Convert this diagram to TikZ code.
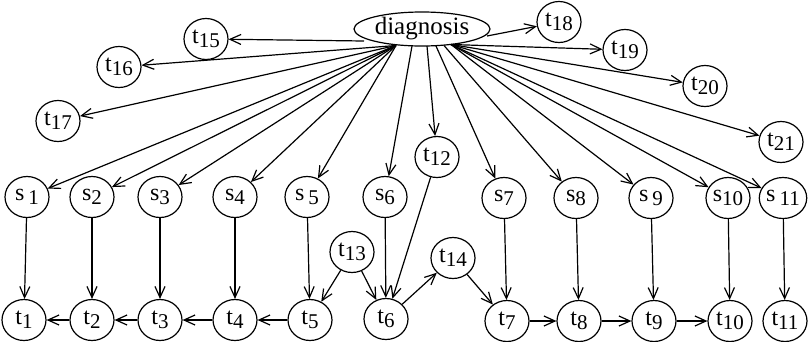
\documentclass[tikz,border=0pt]{standalone}
\usepackage{fontspec}
\setmainfont{Liberation Serif}
\usetikzlibrary{arrows.meta,shapes.geometric}
\newcommand\lsub[1]{\raisebox{-0.4ex}{\fontsize{21}{22}\selectfont #1}}
\tikzset{
  nd/.style={draw, line width=1.2pt, ellipse, minimum width=44pt, minimum height=41pt, inner sep=0pt, font=\fontsize{24}{26}\selectfont},
  ar/.style={line width=1.2pt, -{Straight Barb[length=11pt,width=10pt,line width=1.2pt]}},
}
\begin{document}
\begin{tikzpicture}[x=1pt,y=-1pt]
\useasboundingbox (0,0) rectangle (808,341);
\node[draw, line width=1.2pt, ellipse, minimum width=136pt, minimum height=34pt, inner sep=0pt, font=\fontsize{25}{27}\selectfont] (dg) at (422,29) {diagnosis};
\coordinate (dA) at (364,41);
\coordinate (dL) at (396,45.5);
\coordinate (d6) at (412,46);
\coordinate (d12) at (427,46);
\coordinate (d7) at (436,46);
\coordinate (d8) at (444,45.5);
\coordinate (dR) at (451,44.5);
\coordinate (dB) at (487,36);
\node[nd] (t15) at (206,39) {t\lsub{15}};
\node[nd] (t16) at (119,67) {t\lsub{16}};
\node[nd] (t17) at (58,121) {t\lsub{17}};
\node[nd] (t18) at (559,22) {t\lsub{18}};
\node[nd] (t19) at (625,50) {t\lsub{19}};
\node[nd] (t20) at (705,86) {t\lsub{20}};
\node[nd] (t21) at (781,142) {t\lsub{21}};
\node[nd] (t12) at (437,157) {t\lsub{12}};
\node[nd] (s1) at (27,197) {s\,\lsub{1}};
\node[nd] (s2) at (92,197) {s\lsub{2}};
\node[nd] (s3) at (160,197) {s\lsub{3}};
\node[nd] (s4) at (235,197) {s\lsub{4}};
\node[nd] (s5) at (307,197) {s\,\lsub{5}};
\node[nd] (s6) at (385,197) {s\lsub{6}};
\node[nd] (s7) at (504,198) {s\lsub{7}};
\node[nd] (s8) at (576,198) {s\lsub{8}};
\node[nd] (s9) at (651,198) {s\,\lsub{9}};
\node[nd] (s10) at (728,198) {s\lsub{10}};
\node[nd] (s11) at (783,198) {s\,\lsub{11}};
\node[nd] (t13) at (352,252) {t\lsub{13}};
\node[nd] (t14) at (453,258) {t\lsub{14}};
\node[nd] (t1) at (24,320) {t\lsub{1}};
\node[nd] (t2) at (92,320) {t\lsub{2}};
\node[nd] (t3) at (160,320) {t\lsub{3}};
\node[nd] (t4) at (235,320) {t\lsub{4}};
\node[nd] (t5) at (310,320) {t\lsub{5}};
\node[nd] (t6) at (386,319) {t\lsub{6}};
\node[nd] (t7) at (507,321) {t\lsub{7}};
\node[nd] (t8) at (579,321) {t\lsub{8}};
\node[nd] (t9) at (654,321) {t\lsub{9}};
\node[nd] (t10) at (730,321) {t\lsub{10}};
\node[nd] (t11) at (785,321) {t\lsub{11}};
\draw[ar] (dA) -- (t15);
\draw[ar] (dB) -- (t18);
\foreach \n in {t16,t17,s1,s2,s3,s4,s5}
  \draw[ar] (dL) -- (\n);
\foreach \n in {t19,t20,t21,s9,s10,s11}
  \draw[ar] (dR) -- (\n);
\draw[ar] (d6) -- (s6);
\draw[ar] (d12) -- (t12);
\draw[ar] (d7) -- (s7);
\draw[ar] (d8) -- (s8);
\foreach \i in {1,...,11}
  \draw[ar] (s\i) -- (t\i);
\draw[ar] (t2) -- (t1);
\draw[ar] (t3) -- (t2);
\draw[ar] (t4) -- (t3);
\draw[ar] (t5) -- (t4);
\draw[ar] (t7) -- (t8);
\draw[ar] (t8) -- (t9);
\draw[ar] (t9) -- (t10);
\draw[ar] (t13) -- (t5);
\draw[ar] (t13) -- (t6);
\draw[ar] (t12) -- (t6);
\draw[ar] (t6) -- (t14);
\draw[ar] (t14) -- (t7);
\end{tikzpicture}
\end{document}
